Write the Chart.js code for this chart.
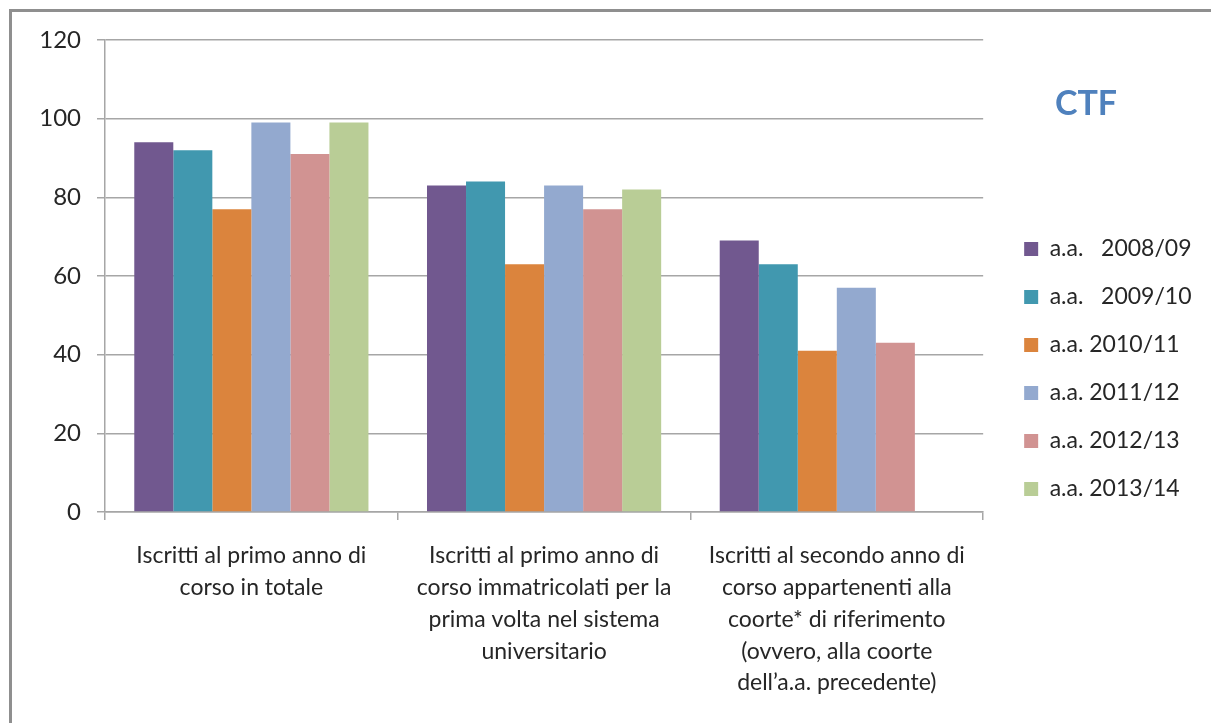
<!DOCTYPE html>
<html>
<head>
<meta charset="utf-8">
<script src="https://cdn.jsdelivr.net/npm/chart.js@4/dist/chart.umd.min.js"></script>
<style>
    html, body { margin: 0; padding: 0; background: #fff; overflow: hidden; }
    #frame { position: absolute; left: 9px; top: 9px; width: 1400px; height: 900px; border: 3px solid #8f8f8f; }
    #wrap { position: absolute; left: 0; top: 0; width: 1211px; height: 723px; }
</style>
</head>
<body>
<div id="frame"></div>
<div id="wrap"><canvas id="ctfChart"></canvas></div>
<script>
    // categories (multi-line labels, as wrapped in the original)
    const categories = [
        ['Iscritti al primo anno di', 'corso in totale'],
        ['Iscritti al primo anno di', 'corso immatricolati per la', 'prima volta nel sistema', 'universitario'],
        ['Iscritti al secondo anno di', 'corso appartenenti alla', 'coorte* di riferimento', '(ovvero, alla coorte', 'dell\u2019a.a. precedente)']
    ];

    const seriesNames = ['a.a.   2008/09', 'a.a.   2009/10', 'a.a. 2010/11', 'a.a. 2011/12', 'a.a. 2012/13', 'a.a. 2013/14'];

    const aa2008 = [94, 83, 69];
    const aa2009 = [92, 84, 63];
    const aa2010 = [77, 63, 41];
    const aa2011 = [99, 83, 57];
    const aa2012 = [91, 77, 43];
    const aa2013 = [99, 82, null];

    const yTicks = [0, 20, 40, 60, 80, 100, 120];

    const seriesValues = [aa2008, aa2009, aa2010, aa2011, aa2012, aa2013];
    const seriesColors = ['#71588f', '#4198af', '#db843d', '#93a9cf', '#d19392', '#b9cd96'];

    const font = 'Lato';
    const gridColor = '#a6a6a6';

    const datasets = seriesValues.map(function (vals, i) {
        return {
            label: seriesNames[i],
            data: vals,
            backgroundColor: seriesColors[i],
            borderWidth: 0,
            categoryPercentage: 0.8,
            barPercentage: 1.0
        };
    });

    // "CTF" heading on the right
    const titlePlugin = {
        id: 'ctfTitle',
        afterDraw: function (chart) {
            const ctx = chart.ctx;
            ctx.save();
            ctx.font = 'bold 34px ' + font;
            ctx.fillStyle = '#4f81bd';
            ctx.textAlign = 'center';
            ctx.textBaseline = 'middle';
            ctx.fillText('CTF', 1086, 104);
            ctx.restore();
        }
    };

    new Chart(document.getElementById('ctfChart'), {
        type: 'bar',
        data: { labels: categories, datasets: datasets },
        plugins: [titlePlugin],
        options: {
            responsive: true,
            maintainAspectRatio: false,
            animation: false,
            layout: { padding: { top: 40, right: 12, bottom: 25, left: 0 } },
            plugins: {
                tooltip: { enabled: false },
                legend: {
                    position: 'right',
                    align: 'center',
                    labels: {
                        boxWidth: 14,
                        boxHeight: 14,
                        padding: 25,
                        color: '#262626',
                        font: { family: font, size: 23, lineHeight: 1 }
                    }
                }
            },
            scales: {
                x: {
                    grid: {
                        display: true,
                        drawOnChartArea: false,
                        drawTicks: true,
                        tickLength: 8,
                        color: gridColor,
                        lineWidth: 1.5
                    },
                    border: { display: true, color: gridColor, width: 1.5 },
                    ticks: {
                        color: '#262626',
                        padding: 20,
                        maxRotation: 0,
                        autoSkip: false,
                        font: { family: font, size: 23, lineHeight: 1.38 }
                    },
                    afterFit: function (scale) { scale.height = 186; }
                },
                y: {
                    min: 0,
                    max: 120,
                    afterBuildTicks: function (scale) {
                        scale.ticks = yTicks.map(function (v) { return { value: v }; });
                    },
                    grid: {
                        color: gridColor,
                        lineWidth: 1.5,
                        tickLength: 8
                    },
                    border: { display: true, color: gridColor, width: 1.5 },
                    ticks: {
                        color: '#262626',
                        padding: 16,
                        font: { family: font, size: 24 }
                    },
                    afterFit: function (scale) { scale.width = 105; }
                },
                gap: {
                    position: 'right',
                    display: true,
                    grid: { display: false },
                    border: { display: false },
                    ticks: { display: false },
                    afterFit: function (scale) { scale.width = 16; }
                }
            }
        }
    });
</script>
</body>
</html>
